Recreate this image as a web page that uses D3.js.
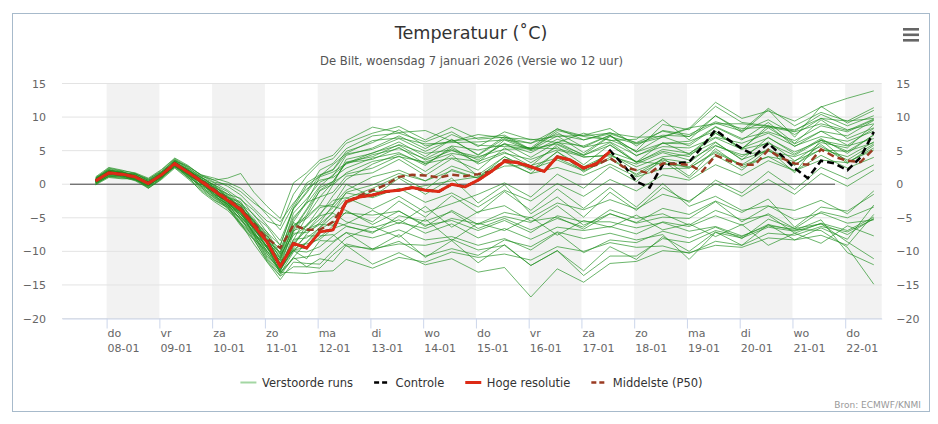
<!DOCTYPE html>
<html>
<head>
<meta charset="utf-8">
<script src="https://cdn.jsdelivr.net/npm/d3@7"></script>
<style>
  body { margin: 0; background: #fff; }
  svg { display: block; font-family: "DejaVu Sans", Verdana, sans-serif; }
</style>
</head>
<body>
<div id="chart"></div>
<script>
// categories / ticks
const dayNames = ['do','vr','za','zo','ma','di','wo','do','vr','za','zo','ma','di','wo','do'];
const dayDates = ['08-01','09-01','10-01','11-01','12-01','13-01','14-01','15-01','16-01','17-01','18-01','19-01','20-01','21-01','22-01'];
const yTicks = [-20, -15, -10, -5, 0, 5, 10, 15];
const legendLabels = ['Verstoorde runs', 'Controle', 'Hoge resolutie', 'Middelste (P50)'];

// hours after do 08-01 00:00
const sixHourly = d3.range(-5, 350, 6);          // 60 steps, control + median
const hiresHours = sixHourly.slice(0, 40);       // hoge resolutie runs 10 days
const memberHours = [-5,1,7,13,19,25,31,37,43,49,55,61,67,73,79,85,91,97,103,109,
  121,133,145,157,169,181,193,205,217,229,241,253,265,277,289,301,313,325,337,349];

const hires = [0.5,1.7,1.5,1.1,0.1,1.4,3.1,1.8,0.4,-1.0,-2.4,-3.8,-6.2,-8.6,-12.3,-8.8,-9.5,-7.1,-6.8,-2.6,
  -1.9,-1.6,-1.1,-0.9,-0.5,-0.9,-1.1,0.0,-0.4,0.6,1.9,3.4,3.2,2.6,1.9,4.1,3.6,2.4,3.1,4.9];

const control = [0.5,1.7,1.5,1.1,0.1,1.4,3.1,1.8,0.4,-1.0,-2.4,-3.8,-6.2,-8.6,-12.3,-8.8,-9.5,-7.1,-6.8,-2.6,
  -1.9,-1.6,-1.1,-0.9,-0.5,-0.9,-1.1,0.0,-0.4,0.6,1.9,3.4,3.2,2.6,1.9,4.1,3.6,2.4,3.1,5.0,
  2.9,0.4,-0.5,2.9,3.1,3.3,5.6,8.1,6.6,5.3,4.3,6.1,4.3,2.4,0.9,3.5,3.1,2.1,4.0,7.8];

const median = [0.5,1.6,1.4,1.0,0.2,1.4,2.9,1.8,0.6,-0.8,-2.2,-3.6,-5.9,-8.1,-9.5,-6.1,-6.8,-6.8,-5.6,-2.6,
  -1.7,-0.9,-0.1,1.1,1.4,1.3,1.0,1.4,1.2,1.5,1.9,3.6,3.3,2.6,1.9,4.1,3.5,2.4,2.9,3.9,
  2.6,2.1,1.6,3.1,3.0,2.9,1.9,4.3,3.5,2.9,2.9,5.1,3.9,3.1,2.9,5.2,4.1,3.5,3.3,5.3];

const members = [
  [1.0,2.2,1.6,1.5,0.8,1.9,3.5,2.7,1.4, 0.9,0.3,-0.6,-2.4,-4.6,-6.8, -3.1,0.2,1.4,2.2,4.9, 6.2,8.1,5.7,6.4,6.9,7.3,5.2,8.0,7.1,6.6, 5.0,8.9,8.1,11.6,9.2,8.7,7.9,10.4,8.7,10.2],
  [0.3,1.4,1.3,0.7,-0.3,1.2,2.6,1.9,0.2, -1.6,-2.5,-4.9,-6.6,-9.6,-11.3, -7.1,-4.5,-0.9,0.4,3.3, 4.1,5.9,4.6,5.1,3.2,6.6,5.0,6.2,5.7,7.3, 4.2,6.1,6.4,7.9,5.3,8.4,6.0,7.9,7.2,9.5],
  [0.6,1.9,1.7,1.2,0.4,1.5,3.4,2.0,1.0, -0.2,-1.9,-2.6,-5.6,-7.1,-10.4, -5.2,-2.6,1.1,1.8,3.1, 4.7,5.8,3.6,5.0,4.1,5.2,5.3,6.0,4.4,7.1, 6.0,7.0,8.3,12.2,9.8,10.9,9.4,11.5,12.8,13.9],
  [0.0,1.2,1.1,0.5,-0.6,0.8,2.8,1.0,-0.1, -1.5,-3.7,-5.0,-8.2,-10.0,-12.9, -9.3,-6.0,-4.6,-1.7,0.7, 3.0,4.5,3.1,3.9,3.4,4.8,2.7,5.9,4.0,4.4, 2.6,4.1,4.4,6.3,3.6,7.0,4.5,6.8,4.6,7.4],
  [0.5,1.7,1.2,1.1,0.1,1.4,2.9,1.8,0.4, -0.9,-2.8,-3.7,-6.8,-8.7,-12.5, -9.8,-9.4,-7.9,-6.2,-2.9, -1.1,-0.9,-0.2,0.5,1.1,2.7,2.8,3.9,2.1,4.8, 3.4,3.0,2.6,5.7,4.4,4.9,4.1,5.6,3.6,6.0],
  [0.8,2.3,1.9,1.0,0.3,1.3,3.3,1.6,0.8, -0.5,-2.4,-3.1,-6.2,-7.9,-11.9, -8.2,-8.0,-6.5,-4.8,-4.3, -4.6,-4.0,-6.3,-3.9,-6.0,-4.8,-5.7,-3.2,-6.1,-4.4, -5.8,-4.9,-5.1,-2.6,-5.6,-3.3,-3.9,-2.4,-4.4,-1.0],
  [0.2,1.5,1.4,0.6,-0.2,1.0,3.0,1.3,0.3, -1.8,-2.9,-5.3,-7.1,-10.3,-13.1, -11.1,-10.8,-10.4,-8.7,-7.2, -8.0,-6.8,-8.3,-7.8,-9.1,-8.1,-9.8,-7.2,-10.2,-8.3, -8.7,-7.0,-8.0,-6.4,-8.1,-5.2,-6.6,-5.9,-7.5,-5.1],
  [0.4,1.9,1.5,1.3,0.0,1.6,3.1,1.9,0.0, -1.0,-3.0,-4.1,-7.3,-9.2,-13.3, -10.9,-12.3,-11.1,-11.5,-9.1, -11.9,-10.2,-12.0,-11.1,-13.1,-12.4,-16.8,-12.6,-14.6,-11.8, -11.5,-9.9,-10.2,-9.1,-9.4,-8.0,-8.3,-7.6,-9.1,-4.5],
  [0.7,1.8,1.4,1.6,0.5,1.8,3.2,2.2,0.6, -0.4,-1.6,-3.6,-5.3,-8.3,-10.2, -4.3,-2.2,0.3,1.2,4.3, 5.4,7.2,5.3,7.4,5.8,5.6,5.4,8.3,6.6,7.7, 6.1,7.3,7.1,9.1,7.9,9.6,7.4,9.8,8.1,9.0],
  [-0.1,1.0,0.8,0.8,-0.6,0.7,2.4,0.8,-0.9, -2.4,-3.5,-6.2,-8.3,-11.3,-13.6, -10.9,-8.6,-6.4,-4.1,-2.1, -0.6,1.2,-0.8,2.2,0.9,3.3,1.6,2.5,1.3,3.0, 1.1,2.3,2.4,4.7,2.8,4.1,2.0,3.6,3.2,5.4],
  [0.3,1.5,1.6,0.9,0.1,1.2,3.0,1.5,-0.3, -1.7,-3.0,-5.2,-7.5,-10.7,-12.6, -8.6,-6.7,-5.9,-4.3,-5.6, -6.5,-5.3,-7.3,-5.9,-8.0,-6.6,-8.2,-6.4,-6.9,-6.3, -7.4,-5.6,-6.3,-4.7,-6.1,-4.4,-6.6,-4.1,-5.0,-3.4],
  [0.6,2.0,1.7,1.4,0.2,1.7,3.2,2.3,0.7, -0.1,-1.1,-2.9,-4.5,-7.2,-9.1, -3.5,-0.2,1.2,2.9,4.6, 6.5,6.9,6.0,6.2,6.3,6.6,6.1,8.2,7.2,7.6, 7.0,7.1,8.4,9.0,9.0,8.6,8.1,9.8,9.4,11.4],
  [0.4,1.8,1.4,1.2,0.3,1.4,3.3,1.8,0.6, -1.1,-2.2,-4.5,-6.5,-9.5,-11.8, -8.8,-6.9,-5.2,-3.5,-1.3, -2.0,-0.6,-2.7,-1.3,-3.4,-0.9,-2.5,0.1,-1.8,0.7, -1.0,1.4,0.6,2.9,1.3,3.5,2.0,4.3,2.4,4.0],
  [0.9,2.0,1.8,1.1,0.4,1.8,3.6,2.2,1.1, -0.3,-2.0,-2.8,-5.7,-7.4,-11.2, -6.2,-5.1,-3.2,-3.3,-3.9, -6.0,-4.0,-6.1,-5.4,-6.9,-5.4,-7.2,-4.7,-5.6,-5.6, -6.5,-5.7,-7.0,-6.3,-7.7,-6.2,-6.7,-6.9,-9.4,-14.9],
  [0.5,1.6,1.5,0.9,0.2,1.2,3.1,1.8,0.4, -0.9,-1.8,-3.7,-5.4,-8.4,-10.9, -6.6,-3.7,-0.5,0.4,3.2, 3.7,5.5,3.0,5.3,3.6,6.1,4.0,6.3,4.3,6.2, 3.3,6.2,4.5,7.6,5.2,8.8,5.6,7.9,5.8,8.3],
  [0.2,1.3,1.2,0.7,-0.1,1.1,2.7,1.5,-0.2, -1.2,-3.3,-4.4,-7.5,-9.5,-12.5, -8.3,-4.8,-3.1,-0.1,1.7, 3.4,4.1,3.3,4.6,3.9,6.0,5.4,5.3,4.3,5.8, 3.3,4.9,4.1,7.6,5.4,6.9,4.8,6.5,5.7,6.8],
  [0.6,1.7,1.5,1.0,-0.1,1.5,2.9,1.7,0.3, -1.0,-2.0,-4.0,-5.8,-8.8,-11.4, -9.9,-11.1,-8.4,-8.5,-7.2, -9.7,-7.5,-10.9,-8.4,-11.7,-9.0,-12.1,-9.9,-12.9,-9.3, -11.2,-7.8,-10.0,-7.1,-9.1,-6.0,-8.3,-6.5,-8.2,-3.1],
  [0.4,1.6,1.1,1.0,-0.3,1.2,2.6,1.4,-0.5, -2.1,-3.3,-5.9,-7.9,-11.1,-13.3, -10.1,-7.4,-5.7,-3.1,-0.9, 1.1,2.1,0.5,2.7,1.4,4.1,2.3,3.6,2.0,3.7, 1.5,3.8,3.2,6.2,3.7,5.0,2.9,5.2,4.1,6.3],
  [0.7,2.0,1.5,1.4,0.2,1.7,3.2,2.1,0.6, -0.6,-2.4,-3.3,-6.3,-8.1,-11.7, -6.9,-6.2,-3.5,-3.0,0.0, -1.9,0.9,-1.5,0.9,-2.8,-0.1,-4.4,-1.9,-4.9,-1.2, -3.9,-0.5,-2.7,0.6,-1.3,1.9,-0.8,2.5,0.8,2.9],
  [1.1,2.5,2.1,1.6,0.7,2.1,3.8,2.6,1.4, 0.6,-0.3,-1.6,-3.6,-5.5,-6.2, -1.5,1.2,3.2,3.8,6.1, 7.6,8.6,6.6,8.5,6.7,7.0,6.1,7.4,6.6,7.5, 6.2,7.9,7.1,10.2,8.0,11.3,8.7,10.7,9.4,9.8],
  [0.0,1.2,1.0,0.6,-0.4,0.9,2.5,1.0,-0.7, -2.3,-3.4,-6.0,-8.2,-11.5,-13.7, -12.3,-12.3,-12.5,-10.5,-8.9, -9.8,-8.5,-10.7,-9.6,-10.6,-8.3,-9.3,-7.1,-8.1,-7.3, -8.3,-7.5,-11.2,-7.2,-8.0,-6.4,-7.0,-5.9,-8.6,-11.1],
  [0.5,1.7,1.6,1.1,0.3,1.3,3.1,1.7,0.6, -0.8,-2.5,-3.7,-6.6,-8.5,-10.1, -5.7,-6.9,-4.7,-4.2,-1.2, -0.1,1.6,0.5,2.0,0.9,4.1,2.1,4.8,2.6,4.5, 2.0,3.6,2.4,4.9,2.9,5.3,2.8,5.9,3.1,5.8],
  [0.3,1.5,1.4,0.8,0.1,1.1,3.0,1.4,0.2, -1.5,-2.6,-4.9,-7.0,-10.0,-12.1, -9.1,-8.9,-8.2,-6.6,-5.9, -3.9,-5.9,-3.3,-6.4,-4.1,-3.2,-5.5,-4.9,-6.7,-4.4, -5.7,-3.6,-4.5,-2.5,-4.2,-2.2,-6.4,-3.4,-4.0,-1.5],
  [0.6,1.8,1.8,1.2,0.4,1.4,3.5,2.0,1.0, -0.1,-1.5,-2.1,-4.7,-6.3,-9.1, -3.7,-1.3,1.3,2.1,4.5, 5.2,6.8,4.9,6.6,4.4,7.1,5.1,7.2,4.7,7.2, 4.8,6.1,6.0,8.6,6.8,7.8,6.5,8.7,7.8,9.6],
  [0.7,2.1,1.8,1.5,0.6,1.9,3.7,2.4,1.2, 0.6,0.9,1.6,-1.2,-3.3,-5.1, 0.2,1.7,3.6,4.3,6.5, 8.5,7.7,8.0,6.4,7.4,6.9,6.7,6.2,7.6,6.5, 6.7,9.6,6.6,10.2,7.7,11.1,7.0,11.6,9.1,11.0],
  [0.2,1.4,1.3,0.7,-0.1,1.0,2.9,1.2,-0.3, -1.9,-3.0,-5.4,-7.6,-10.4,-12.8, -9.9,-10.1,-9.3,-7.7,-6.3, -7.1,-5.7,-6.6,-5.1,-5.9,-4.2,-5.0,-2.8,-3.8,-2.3, -3.7,-1.5,-2.5,0.1,-1.8,0.7,-1.5,1.6,-0.3,2.1],
  [0.4,1.7,1.3,1.0,0.2,1.3,2.8,1.7,0.1, -1.3,-2.5,-4.6,-6.3,-9.3,-11.0, -6.1,-4.8,-1.9,-1.2,1.2, 1.7,3.7,1.3,3.8,2.1,5.4,3.2,5.6,2.9,5.9, 3.2,5.2,4.6,6.9,5.2,6.1,4.3,6.6,4.9,7.3],
  [0.6,1.8,1.6,1.0,0.2,1.4,3.2,1.6,0.4, -1.1,-2.2,-4.3,-6.5,-9.4,-12.2, -9.5,-7.7,-7.7,-7.5,-9.2, -9.6,-8.9,-9.1,-8.2,-9.8,-9.1,-12.1,-9.9,-13.6,-10.7, -10.7,-8.1,-8.7,-6.9,-7.8,-6.0,-6.9,-5.3,-10.2,-12.0],
  [0.8,2.1,1.7,1.3,0.3,1.7,3.0,2.0,0.7, -0.7,-1.8,-3.6,-5.5,-8.5,-10.7, -5.6,-2.7,-1.9,0.3,1.5, 2.4,4.2,1.9,4.4,1.2,3.5,1.6,4.9,1.8,4.0, 1.3,3.4,0.9,4.3,2.1,5.2,1.7,6.6,3.3,5.1],
  [0.1,1.2,1.3,0.7,-0.2,1.1,2.6,1.3,-0.5, -2.0,-3.2,-5.7,-7.7,-10.9,-13.0, -7.3,-7.2,-6.0,-6.1,-4.1, -5.6,-2.5,-4.9,-1.7,-4.3,-1.1,-3.9,-0.7,-3.6,-0.5, -3.4,0.1,-3.3,-1.8,-3.9,-3.2,-5.3,-4.3,-5.8,-5.3],
  [0.5,1.7,1.4,1.1,0.0,1.4,2.9,1.5,0.1, -1.2,-3.1,-4.2,-7.4,-9.2,-13.1, -13.2,-13.3,-13.0,-12.9,-11.2, -12.5,-10.9,-11.6,-10.1,-10.9,-10.4,-11.3,-9.3,-10.0,-8.7, -9.4,-9.2,-10.3,-8.5,-9.1,-7.3,-7.6,-6.3,-7.1,-5.2],
  [0.3,1.5,1.5,0.9,0.1,1.2,2.8,1.7,0.3, -1.0,-2.8,-4.0,-6.9,-8.8,-12.1, -6.8,-3.9,-1.0,0.0,3.7, 4.6,6.3,4.1,6.7,4.3,6.8,5.2,7.7,5.5,7.3, 4.8,7.1,5.7,8.5,6.6,9.2,6.1,9.6,6.8,8.4],
  [0.9,2.4,2.0,1.7,0.9,2.2,3.9,2.8,1.3, 0.3,0.0,-1.1,-2.8,-4.2,-5.6, -2.8,-0.7,0.6,1.0,2.4, 3.9,4.7,2.8,5.6,3.0,4.6,3.7,5.1,4.1,4.2, 3.0,4.7,3.6,5.8,4.1,6.3,3.5,5.1,4.9,6.2],
  [0.2,1.1,0.9,0.9,-0.5,0.9,2.7,1.1,-1.1, -2.6,-3.9,-5.8,-8.9,-11.6,-14.2, -11.6,-11.8,-11.9,-9.9,-8.0, -6.3,-7.9,-5.2,-8.4,-5.8,-6.9,-4.9,-7.6,-5.4,-6.4, -4.6,-6.8,-5.9,-7.8,-6.0,-9.1,-7.3,-8.8,-6.2,-7.7],
  [0.6,1.8,1.5,1.3,0.3,1.5,3.4,1.9,0.5, -0.9,-2.0,-3.2,-5.9,-7.7,-10.5, -7.6,-6.3,-4.4,-2.4,-2.0, -3.7,-1.8,-4.2,-2.9,-1.5,0.2,-1.9,1.5,-0.6,2.6, 0.4,3.9,1.2,5.3,2.5,4.1,3.4,6.2,5.4,8.9],
  [0.4,1.6,1.3,1.2,0.0,1.5,3.1,2.1,0.8, -0.5,-1.4,-3.1,-5.1,-7.7,-9.7, -4.9,-2.9,-0.3,1.4,3.0, 4.4,5.3,3.8,5.7,5.1,5.9,4.7,6.7,5.5,6.3, 4.3,5.6,5.4,7.0,6.1,7.6,5.7,7.1,6.4,7.9],
  [0.7,1.9,1.6,1.0,0.1,1.3,3.3,1.8,0.5, -1.4,-2.7,-4.8,-7.4,-9.9,-12.7, -9.7,-8.7,-6.8,-5.5,-6.2, -7.3,-4.7,-5.5,-4.1,-6.6,-5.1,-6.8,-5.1,-6.4,-3.8, -5.1,-4.4,-6.1,-3.9,-5.3,-4.6,-7.3,-5.8,-6.9,-4.9],
  [0.8,2.1,1.9,1.3,0.6,1.6,3.5,2.5,1.0, 0.2,-0.9,-2.3,-3.9,-6.1,-8.4, -3.6,-1.1,2.1,3.1,5.3, 7.2,7.6,6.3,7.8,5.6,7.8,6.6,7.1,7.3,8.3, 5.7,8.0,7.4,9.3,8.3,8.5,7.8,9.0,8.0,9.7]
];

const width = 938, height = 424;
const plotLeft = 62, plotRight = 881.7, plotTop = 83.5, plotBottom = 318.5;

const svg = d3.select('#chart').append('svg')
    .attr('width', width)
    .attr('height', height);

svg.append('rect').attr('width', width).attr('height', height).attr('fill', '#fff');
svg.append('rect')
    .attr('x', 12.5).attr('y', 13.5).attr('width', 917).attr('height', 398)
    .attr('fill', 'none').attr('stroke', '#a7bacb');

// scales: hours since do 08-01 00:00
let xScale = d3.scaleLinear().domain([-20.3, 352.6]).range([plotLeft, plotRight]);
let yScale = d3.scaleLinear().domain([-20, 15]).range([plotBottom, plotTop]);

// alternating day bands
svg.append('g').selectAll('rect')
    .data(dayNames.map((d, i) => i).filter(i => i % 2 === 0))
    .join('rect')
    .attr('x', i => xScale(i * 24))
    .attr('y', plotTop)
    .attr('width', i => Math.min(xScale((i + 1) * 24), plotRight) - xScale(i * 24))
    .attr('height', plotBottom - plotTop)
    .attr('fill', '#f2f2f2');

// horizontal grid
svg.append('g').selectAll('line')
    .data(yTicks)
    .join('line')
    .attr('x1', plotLeft).attr('x2', plotRight)
    .attr('y1', d => yScale(d)).attr('y2', d => yScale(d))
    .attr('stroke', '#e3e3e3');

// zero line
svg.append('line')
    .attr('x1', 70).attr('x2', 835)
    .attr('y1', yScale(0)).attr('y2', yScale(0))
    .attr('stroke', '#444').attr('stroke-width', 1);

// x axis
let xAxis = svg.append('g')
    .attr('transform', `translate(0,${plotBottom})`)
    .call(d3.axisBottom(xScale)
        .tickValues(dayNames.map((d, i) => i * 24))
        .tickSize(10).tickSizeOuter(0).tickFormat(''));
xAxis.select('.domain').attr('stroke', '#ccd6eb');
xAxis.selectAll('.tick line').attr('stroke', '#ccd6eb');

let xLabels = svg.append('g').selectAll('text')
    .data(dayNames)
    .join('text')
    .attr('x', (d, i) => xScale(i * 24) + 1)
    .attr('y', plotBottom + 18.2)
    .attr('font-size', 11)
    .attr('fill', '#666');
xLabels.append('tspan').text(d => d);
xLabels.append('tspan')
    .attr('x', (d, i) => xScale(i * 24) + 1)
    .attr('dy', 15)
    .text((d, i) => dayDates[i]);

// y axes, left and right
let leftAxis = svg.append('g')
    .attr('transform', `translate(${plotLeft},0)`)
    .call(d3.axisLeft(yScale).tickValues(yTicks).tickSize(0).tickPadding(16));
let rightAxis = svg.append('g')
    .attr('transform', `translate(${plotRight},0)`)
    .call(d3.axisRight(yScale).tickValues(yTicks).tickSize(0).tickPadding(14.5));
[leftAxis, rightAxis].forEach(a => {
    a.select('.domain').remove();
    a.selectAll('text')
        .attr('font-family', '"DejaVu Sans", Verdana, sans-serif')
        .attr('font-size', 11)
        .attr('fill', '#666');
});

// series
const lineGen = hours => d3.line()
    .x((d, i) => xScale(hours[i]))
    .y(d => yScale(d));

svg.append('g').selectAll('path')
    .data(members)
    .join('path')
    .attr('d', lineGen(memberHours))
    .attr('fill', 'none')
    .attr('stroke', '#1f8f1f')
    .attr('stroke-opacity', 0.66)
    .attr('stroke-width', 1);

svg.append('path')
    .attr('d', lineGen(sixHourly)(control))
    .attr('fill', 'none')
    .attr('stroke', '#000')
    .attr('stroke-width', 2.5)
    .attr('stroke-dasharray', '7,4');

svg.append('path')
    .attr('d', lineGen(sixHourly)(median))
    .attr('fill', 'none')
    .attr('stroke', '#9a3b22')
    .attr('stroke-width', 2.5)
    .attr('stroke-dasharray', '7,4');

svg.append('path')
    .attr('d', lineGen(hiresHours)(hires))
    .attr('fill', 'none')
    .attr('stroke', '#dd2a16')
    .attr('stroke-width', 3)
    .attr('stroke-linejoin', 'round');

// title
svg.append('text')
    .attr('x', 471).attr('y', 38.5)
    .attr('text-anchor', 'middle')
    .attr('font-size', 17.6)
    .attr('fill', '#333')
    .text('Temperatuur (˚C)');
svg.append('text')
    .attr('x', 471.5).attr('y', 65)
    .attr('text-anchor', 'middle')
    .attr('font-size', 11.6)
    .attr('fill', '#555')
    .text('De Bilt, woensdag 7 januari 2026 (Versie wo 12 uur)');

// legend
const legendStyles = [
    { color: '#a3d6a3', width: 2, dash: null },
    { color: '#000', width: 2.5, dash: '5,3' },
    { color: '#dd2a16', width: 3, dash: null },
    { color: '#9a3b22', width: 2.5, dash: '5,3' }
];
let legend = svg.append('g');
let items = legend.selectAll('g')
    .data(legendLabels)
    .join('g');
items.append('line')
    .attr('x1', 0).attr('x2', 16)
    .attr('y1', 382.5).attr('y2', 382.5)
    .attr('stroke', (d, i) => legendStyles[i].color)
    .attr('stroke-width', (d, i) => legendStyles[i].width)
    .attr('stroke-dasharray', (d, i) => legendStyles[i].dash);
items.append('text')
    .attr('x', 21.5).attr('y', 386.5)
    .attr('font-size', 11.5)
    .attr('fill', '#333')
    .text(d => d);
let offsets = [], pos = 0;
items.each(function () {
    offsets.push(pos);
    pos += 21.5 + this.querySelector('text').getComputedTextLength() + 21;
});
let totalW = pos - 21;
let startX = 471.5 - totalW / 2;
items.attr('transform', (d, i) => `translate(${startX + offsets[i]},0)`);

// source
svg.append('text')
    .attr('x', 921).attr('y', 407.5)
    .attr('text-anchor', 'end')
    .attr('font-size', 9)
    .attr('fill', '#999')
    .text('Bron: ECMWF/KNMI');

// menu icon
svg.append('g').selectAll('rect')
    .data([28, 33.5, 39])
    .join('rect')
    .attr('x', 903).attr('y', d => d)
    .attr('width', 16).attr('height', 2.6)
    .attr('fill', '#666');
</script>
</body>
</html>
